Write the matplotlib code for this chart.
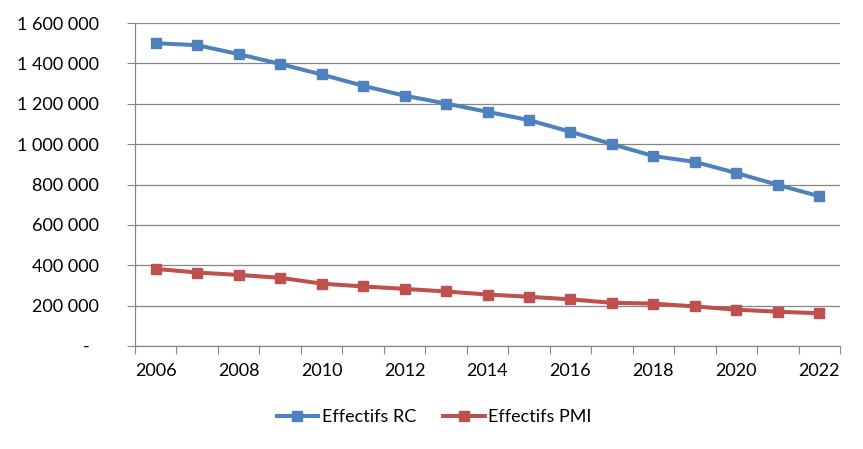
import matplotlib.pyplot as plt
from matplotlib.ticker import FuncFormatter

years = list(range(2006, 2023))
effectifs_rc = [1500000, 1490000, 1446000, 1397000, 1345000, 1289000, 1240000,
                1201000, 1160000, 1119000, 1061000, 1000000, 941000, 912000,
                857000, 798000, 742000]
effectifs_pmi = [382000, 364000, 352000, 338000, 309000, 295000, 283000,
                 270000, 255000, 244000, 231000, 214000, 210000, 196000,
                 180000, 170000, 162000]
year_labels = [str(y) for y in years[::2]]

BLUE = "#4F81BD"
RED = "#C0504D"
GRID = "#868686"

plt.rcParams['font.family'] = ['Lato', 'DejaVu Sans']

fig = plt.figure(figsize=(8.63, 4.49), dpi=100)
ax = fig.add_axes([135 / 863, 1 - 346 / 449, 705 / 863, 323 / 449])

x = list(range(len(years)))
ax.plot(x, effectifs_rc, color=BLUE, lw=2.9, marker="s", ms=6.5, label="Effectifs RC")
ax.plot(x, effectifs_pmi, color=RED, lw=2.9, marker="s", ms=6.5, label="Effectifs PMI")

ax.set_xlim(-0.5, len(years) - 0.5)
ax.set_ylim(0, 1600000)
ax.set_yticks(range(0, 1600001, 200000))


def fmt(v, pos):
    if v == 0:
        return "-  "
    return f"{int(v):,}".replace(",", " ")


ax.yaxis.set_major_formatter(FuncFormatter(fmt))
ax.set_xticks(x[::2])
ax.set_xticklabels(year_labels)
ax.set_xticks([i - 0.5 for i in range(len(years) + 1)], minor=True)

ax.tick_params(axis="x", which="major", length=0, pad=12, labelsize=13)
ax.tick_params(axis="x", which="minor", length=6, width=0.8, color=GRID, direction="out")
ax.tick_params(axis="y", length=6, width=0.8, color=GRID, pad=20, labelsize=13)

ax.grid(axis="y", color=GRID, lw=0.9)
ax.set_axisbelow(True)
for s in ["top", "right"]:
    ax.spines[s].set_visible(False)
for s in ["left", "bottom"]:
    ax.spines[s].set_color(GRID)
    ax.spines[s].set_linewidth(0.9)

fig.legend(loc="center", bbox_to_anchor=(0.503, 0.071), ncol=2, frameon=False,
           fontsize=13, handlelength=2.3, handletextpad=0.2, columnspacing=1.5)

fig.savefig("out.png", dpi=100)
